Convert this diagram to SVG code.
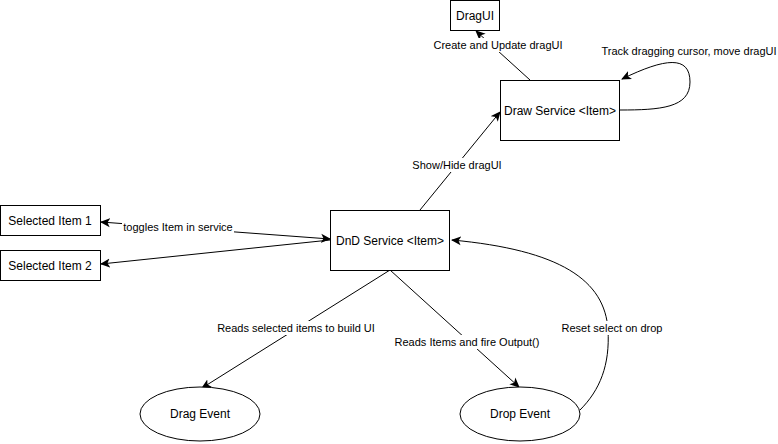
<svg xmlns="http://www.w3.org/2000/svg" width="778" height="444" viewBox="0 0 778 444">
<style>
.box{fill:#fff;stroke:#000;stroke-width:1}
.t{font-family:"Liberation Sans",Arial,sans-serif;font-size:12px;fill:#000;text-anchor:middle;dominant-baseline:central}
.l{font-family:"Liberation Sans",Arial,sans-serif;font-size:11px;fill:#000;text-anchor:middle;dominant-baseline:central}
.e{fill:none;stroke:#000;stroke-width:1}
.bg{fill:#fff}
</style>
<defs>
<marker id="a" viewBox="0 0 10 10" refX="9" refY="5" markerWidth="10" markerHeight="10" markerUnits="userSpaceOnUse" orient="auto-start-reverse">
<path d="M0,0.5 L10,5 L0,9.5 L2.5,5 Z" fill="#000"/>
</marker>
</defs>
<rect width="778" height="444" fill="#fff"/>
<g id="connectors">
<path class="e" d="M530,80 L476,31" marker-end="url(#a)"/>
<path class="e" d="M620,110 C660,110 690,108 690,82 C690,55 665,58 622,79" marker-end="url(#a)"/>
<path class="e" d="M420,210 L500,112" marker-end="url(#a)"/>
<path class="e" d="M101,222 L330,239" marker-start="url(#a)" marker-end="url(#a)"/>
<path class="e" d="M330,240 L101,264" marker-end="url(#a)"/>
<path class="e" d="M390,270 L202,388" marker-end="url(#a)"/>
<path class="e" d="M390,270 L519,387" marker-end="url(#a)"/>
<path class="e" d="M580,410 C600,390 610,365 608,330 C605,280 560,250 452,240" marker-end="url(#a)"/>
<rect class="bg" x="432" y="38" width="132" height="14"/>
<text class="l" x="498" y="45">Create and Update dragUI</text>
<text class="l" x="689" y="51">Track dragging cursor, move dragUI</text>
<rect class="bg" x="412" y="158" width="90" height="14"/>
<text class="l" x="457" y="165">Show/Hide dragUI</text>
<rect class="bg" x="122" y="220" width="112" height="14"/>
<text class="l" x="178" y="227">toggles Item in service</text>
<rect class="bg" x="214" y="321" width="164" height="14"/>
<text class="l" x="296" y="328">Reads selected items to build UI</text>
<rect class="bg" x="394" y="335" width="147" height="14"/>
<text class="l" x="467" y="342">Reads Items and fire Output()</text>
<rect class="bg" x="560" y="321" width="104" height="14"/>
<text class="l" x="612" y="328">Reset select on drop</text>
</g>
<g id="dragui">
<rect class="box" x="450.5" y="0.5" width="49" height="30"/>
<text class="t" x="475" y="16">DragUI</text>
</g>
<g id="draw-service">
<rect class="box" x="500.5" y="80.5" width="119" height="60"/>
<text class="t" x="560" y="111">Draw Service &lt;Item&gt;</text>
</g>
<g id="dnd-service">
<rect class="box" x="330.5" y="210.5" width="119" height="60"/>
<text class="t" x="390" y="241">DnD Service &lt;Item&gt;</text>
</g>
<g id="selected-item-1">
<rect class="box" x="0.5" y="205.5" width="100" height="30"/>
<text class="t" x="50" y="221">Selected Item 1</text>
</g>
<g id="selected-item-2">
<rect class="box" x="0.5" y="250.5" width="100" height="30"/>
<text class="t" x="50" y="266">Selected Item 2</text>
</g>
<g id="drag-event">
<ellipse class="box" cx="200" cy="414" rx="60" ry="27"/>
<text class="t" x="200" y="414">Drag Event</text>
</g>
<g id="drop-event">
<ellipse class="box" cx="520" cy="414" rx="60" ry="27"/>
<text class="t" x="520" y="414">Drop Event</text>
</g>
</svg>
